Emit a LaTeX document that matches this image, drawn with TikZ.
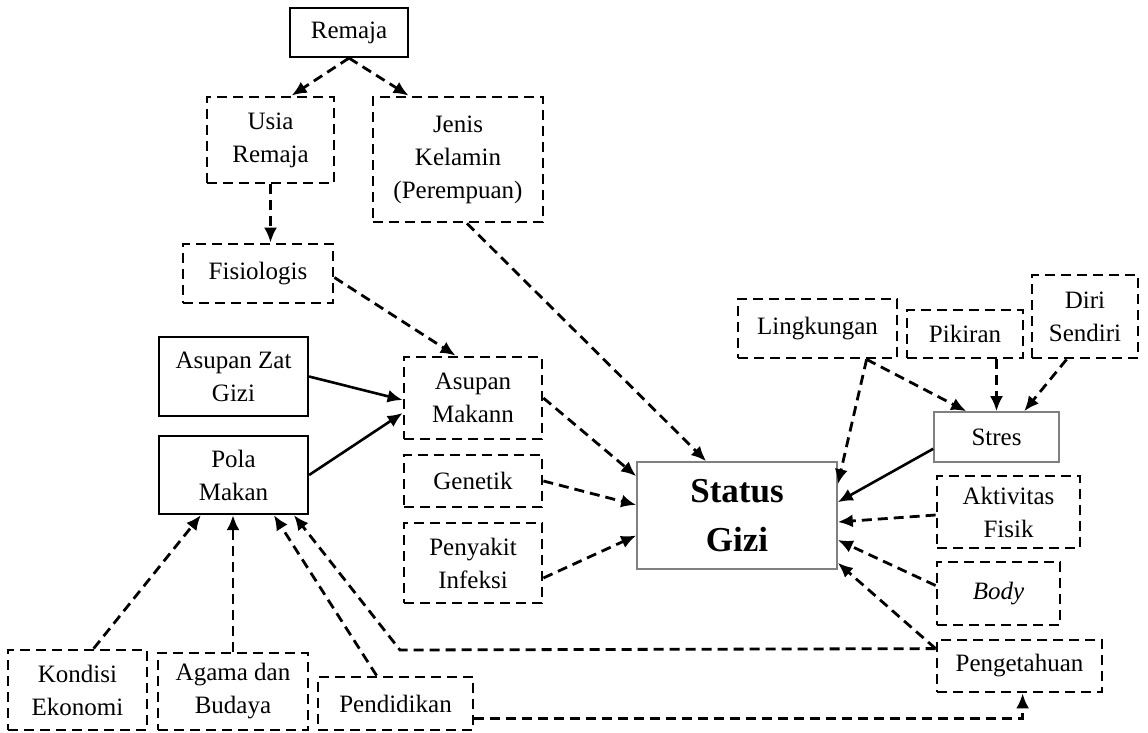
\documentclass[tikz,border=0pt]{standalone}
\usepackage{fontspec}
\setmainfont{Liberation Serif}
\usetikzlibrary{calc,arrows.meta}
\tikzset{
  base/.style={inner sep=0pt, align=center, font=\fontsize{25}{33}\selectfont},
  solidbox/.style={base, draw, line width=2.2pt},
  dashbox/.style={base, draw, line width=2.8pt, dash pattern=on 10pt off 6pt},
  graybox/.style={base, draw=black!50, line width=1.6pt},
  darr/.style={line width=2.8pt, dash pattern=on 10pt off 6pt, -{Latex[length=15pt,width=13pt]}},
  sarr/.style={line width=2.6pt, -{Latex[length=15pt,width=13pt]}},
}
\begin{document}
\begin{tikzpicture}[x=1pt,y=-1pt]
\useasboundingbox (0,0) rectangle (1148,733);
% nodes
\node[solidbox, minimum width=118pt, minimum height=49pt] (remaja) at (349,32.5) {Remaja};
\node[dashbox, minimum width=127pt, minimum height=86pt] (usia) at (270.5,140) {Usia\\Remaja};
\node[dashbox, minimum width=170pt, minimum height=125pt] (jenis) at (458,159.5) {Jenis\\Kelamin\\(Perempuan)};
\node[dashbox, minimum width=150pt, minimum height=59pt] (fisio) at (258,273.5) {Fisiologis};
\node[solidbox, minimum width=149pt, minimum height=79pt] (azg) at (233.5,376.5) {Asupan Zat\\Gizi};
\node[solidbox, minimum width=149pt, minimum height=78pt] (pola) at (233.5,475) {Pola\\Makan};
\node[dashbox, minimum width=138pt, minimum height=82pt] (asm) at (473,398) {Asupan\\Makann};
\node[dashbox, minimum width=138pt, minimum height=52pt] (gen) at (473,481) {Genetik};
\node[dashbox, minimum width=138pt, minimum height=80pt] (pi) at (473,563) {Penyakit\\Infeksi};
\node[graybox, minimum width=200pt, minimum height=107pt, font=\fontsize{35}{49}\selectfont\bfseries] (sg) at (737,515.5) {Status\\Gizi};
\node[dashbox, minimum width=159pt, minimum height=59pt] (ling) at (817.5,328.5) {Lingkungan};
\node[dashbox, minimum width=116pt, minimum height=48pt] (pik) at (965,334) {Pikiran};
\node[dashbox, minimum width=106pt, minimum height=83pt] (diri) at (1085,316.5) {Diri\\Sendiri};
\node[graybox, minimum width=125pt, minimum height=50pt] (stres) at (996.5,437) {Stres};
\node[dashbox, minimum width=143pt, minimum height=72pt] (akt) at (1008.5,512) {Aktivitas\\Fisik};
\node[dashbox, minimum width=123pt, minimum height=63pt] (body) at (998.5,593.5) {\itshape Body};
\node[dashbox, minimum width=165pt, minimum height=52pt] (peng) at (1019.5,666) {Pengetahuan};
\node[dashbox, minimum width=139pt, minimum height=80pt] (kond) at (77.5,690) {Kondisi\\Ekonomi};
\node[dashbox, minimum width=150pt, minimum height=77pt] (agama) at (233,691.5) {Agama dan\\Budaya};
\node[dashbox, minimum width=155pt, minimum height=53pt] (pend) at (395.5,703.5) {Pendidikan};
\coordinate (c1) at (400,650);
% connectors
\draw[darr] (remaja.south) -- ($(usia.north west)+(86,0)$);
\draw[darr] (remaja.south) -- ($(jenis.north west)+(37,0)$);
\draw[darr] (usia.south) -- (usia.south |- fisio.north);
\draw[darr] ($(fisio.east)+(0,4)$) -- ($(asm.north west)+(53,0)$);
\draw[sarr] (azg.east) -- ($(asm.west)+(0,2)$);
\draw[sarr] (pola.east) -- ($(asm.west)+(0,15)$);
\draw[darr] ($(jenis.south)+(9,0)$) -- ($(sg.north west)+(70,0)$);
\draw[darr] (asm.east) -- ($(sg.north west)+(0,15)$);
\draw[darr] (gen.east) -- ($(sg.west)+(0,-10.5)$);
\draw[darr] ($(pi.east)+(0,15)$) -- ($(sg.west)+(0,20)$);
\draw[darr] ($(ling.south west)+(130,0)$) -- ($(stres.north west)+(33,0)$);
\draw[darr] ($(ling.south west)+(130,0)$) -- ($(sg.north east)+(0,23)$);
\draw[darr] (stres.north |- pik.south) -- (stres.north);
\draw[darr] ($(diri.south west)+(36,0)$) -- ($(stres.north west)+(91,0)$);
\draw[sarr] ($(stres.south west)+(0,-14)$) -- ($(sg.north east)+(0,41)$);
\draw[darr] ($(akt.west)+(0,3)$) -- ($(sg.east)+(0,6.5)$);
\draw[darr] ($(body.west)+(0,-8)$) -- ($(sg.east)+(0,24.5)$);
\draw[darr] ($(peng.north west)+(0,10)$) -- ($(sg.south east)+(0,-7)$);
\draw[darr] ($(peng.north west)+(0,10)$) -- (c1) -- ($(pola.south west)+(136,0)$);
\draw[darr] ($(pend.north west)+(60,0)$) -- ($(pola.south west)+(116,0)$);
\draw[darr] (agama.north) -- (agama.north |- pola.south);
\draw[darr] ($(kond.north west)+(87,0)$) -- ($(pola.south west)+(43,0)$);
\draw[darr] ($(pend.south east)+(0,-13)$) -| ($(peng.south west)+(87,0)$);
\end{tikzpicture}
\end{document}
